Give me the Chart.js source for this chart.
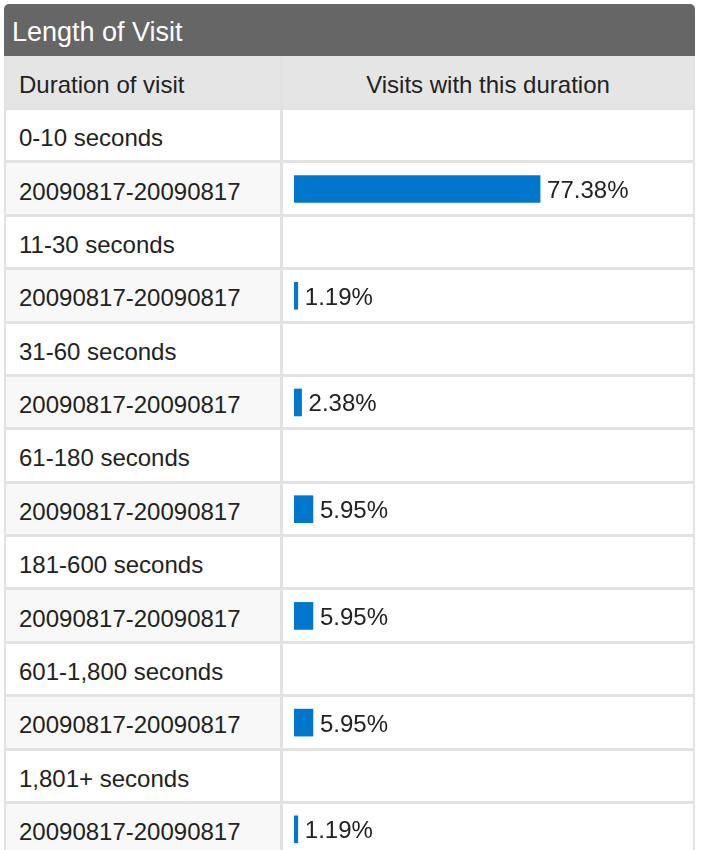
<!DOCTYPE html>
<html>
<head>
<meta charset="utf-8">
<title>Length of Visit</title>
<script src="https://cdn.jsdelivr.net/npm/chart.js@4/dist/chart.umd.min.js"></script>
<style>
  html, body { margin: 0; padding: 0; background: #fff; }
  body {
    font-family: "Liberation Sans", Arial, sans-serif;
    color: #222;
    overflow: hidden;
    width: 701px;
    height: 850px;
  }
  #panel { position: absolute; left: 4px; top: 4px; width: 691px; }
  #title {
    height: 52px;
    background: #666;
    color: #fff;
    border-radius: 5px 5px 0 0;
    font-size: 27px;
    line-height: 57px;
    padding-left: 8px;
    box-sizing: border-box;
    white-space: nowrap;
  }
  #grid {
    position: relative;
    display: grid;
    grid-template-columns: 274px 410px;
    grid-template-rows: 51px;
    grid-auto-rows: 50.38px;
    column-gap: 3px;
    row-gap: 3px;
    padding: 0 2px;
    background: #e2e2e2;
  }
  .cell {
    background: #fff;
    font-size: 24px;
    display: flex;
    align-items: center;
    padding: 6px 0 0 13px;
    box-sizing: border-box;
    white-space: nowrap;
  }
  .head { background: #e5e5e5; }
  .head.right { justify-content: center; padding-left: 0; }
  .range { background: #f8f8f8; }
  #bars {
    position: absolute;
    left: 279px;
    top: 52.5px;
    width: 410px;
    height: 747px;
    pointer-events: none;
  }
</style>
</head>
<body>
<div id="panel">
  <div id="title">Length of Visit</div>
  <div id="grid">
    <div class="cell head">Duration of visit</div>
    <div class="cell head right">Visits with this duration</div>
    <div id="bars"><canvas id="visit-chart"></canvas></div>
  </div>
</div>
<script>
(function () {
  "use strict";

  var durations = [
    "0-10 seconds",
    "11-30 seconds",
    "31-60 seconds",
    "61-180 seconds",
    "181-600 seconds",
    "601-1,800 seconds",
    "1,801+ seconds"
  ];
  var ranges = [
    "20090817-20090817",
    "20090817-20090817",
    "20090817-20090817",
    "20090817-20090817",
    "20090817-20090817",
    "20090817-20090817",
    "20090817-20090817"
  ];
  var shares = [77.38, 1.19, 2.38, 5.95, 5.95, 5.95, 1.19];

  // each duration takes two table rows: its heading, then the date range with the bar
  var grid = document.getElementById("grid");
  var rowLabels = [];
  var rowValues = [];
  durations.forEach(function (name, i) {
    addRow(name, "");
    rowLabels.push(name);
    rowValues.push(null);
    addRow(ranges[i], "range");
    rowLabels.push(ranges[i]);
    rowValues.push(shares[i]);
  });

  function addRow(text, cls) {
    var left = document.createElement("div");
    left.className = "cell" + (cls ? " " + cls : "");
    left.textContent = text;
    var right = document.createElement("div");
    right.className = "cell";
    grid.appendChild(left);
    grid.appendChild(right);
  }

  var valueLabels = {
    id: "valueLabels",
    afterDatasetsDraw: function (chart) {
      var ctx = chart.ctx;
      var meta = chart.getDatasetMeta(0);
      ctx.save();
      ctx.fillStyle = "#222";
      ctx.font = '24px "Liberation Sans", Arial, sans-serif';
      ctx.textAlign = "left";
      ctx.textBaseline = "alphabetic";
      meta.data.forEach(function (bar, i) {
        var v = chart.data.datasets[0].data[i];
        if (v === null || v === undefined) {
          return;
        }
        ctx.fillText(v.toFixed(2) + "%", bar.x + 7, bar.y + 9);
      });
      ctx.restore();
    }
  };

  new Chart(document.getElementById("visit-chart"), {
    type: "bar",
    data: {
      labels: rowLabels,
      datasets: [
        {
          data: rowValues,
          backgroundColor: "#0077cc",
          borderWidth: 0,
          barThickness: 27
        }
      ]
    },
    options: {
      indexAxis: "y",
      animation: false,
      responsive: true,
      maintainAspectRatio: false,
      layout: { padding: { left: 11, right: 81, top: 0, bottom: 0 } },
      scales: {
        x: { min: 0, max: 100, display: false },
        y: { display: false }
      },
      plugins: {
        legend: { display: false },
        tooltip: { enabled: false }
      }
    },
    plugins: [valueLabels]
  });
})();
</script>
</body>
</html>
